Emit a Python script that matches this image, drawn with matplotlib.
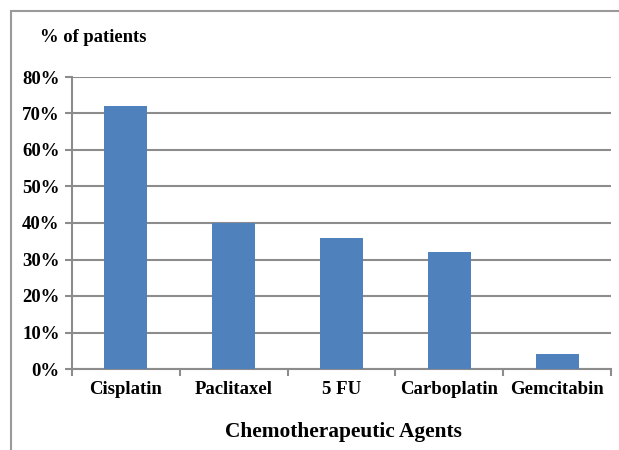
import numpy as np
import matplotlib.pyplot as plt
from matplotlib.patches import Rectangle
from matplotlib.ticker import PercentFormatter

# Data
agents = ["Cisplatin", "Paclitaxel", "5 FU", "Carboplatin", "Gemcitabin"]
pct = [72, 40, 36, 32, 4]

plt.rcParams['font.family'] = ['Liberation Serif', 'DejaVu Serif']
plt.rcParams['font.weight'] = 'bold'

fig = plt.figure(figsize=(6.19, 4.5), dpi=100)
ax = fig.add_axes([72 / 619, 1 - 369 / 450, (611 - 72) / 619, (369 - 77) / 450])

# outer frame (top and left edge visible)
fig.patches.append(Rectangle((11 / 619, -0.1), 1.2, 1 - 11 / 450 + 0.1,
                             transform=fig.transFigure, fill=False,
                             edgecolor='#9a9a9a', linewidth=1.5))

x = np.arange(len(agents))
ax.bar(x, pct, width=0.4, color='#4f81bd', zorder=3)

ax.set_xlim(-0.5, len(agents) - 0.5)
ax.set_ylim(0, 80)
ax.set_yticks(np.arange(0, 81, 10))
ax.yaxis.set_major_formatter(PercentFormatter(decimals=0))
ax.grid(axis='y', color='#8c8c8c', linewidth=1.5, zorder=0)

ax.set_xticks(np.arange(-0.5, len(agents), 1))
ax.set_xticklabels([])
ax.set_xticks(x, minor=True)
ax.set_xticklabels(agents, minor=True, fontsize=13.5, fontweight='bold')
ax.tick_params(axis='x', which='minor', length=0, pad=9)
ax.tick_params(axis='x', which='major', length=5, color='#8c8c8c', width=1.5)
ax.tick_params(axis='y', length=5, color='#8c8c8c', width=1.5, labelsize=13.5, pad=4)
for t in ax.get_yticklabels():
    t.set_fontweight('bold')

for s in ['top', 'right']:
    ax.spines[s].set_visible(False)
for s in ['left', 'bottom']:
    ax.spines[s].set_color('#8c8c8c')
    ax.spines[s].set_linewidth(1.5)

fig.text(40 / 619, 1 - 37 / 450, "% of patients", fontsize=13.4, fontweight='bold', va='center')
fig.text(343 / 619, 1 - 432 / 450, "Chemotherapeutic Agents", fontsize=15.4,
         fontweight='bold', ha='center', va='center')

fig.savefig("out.png", dpi=100)
